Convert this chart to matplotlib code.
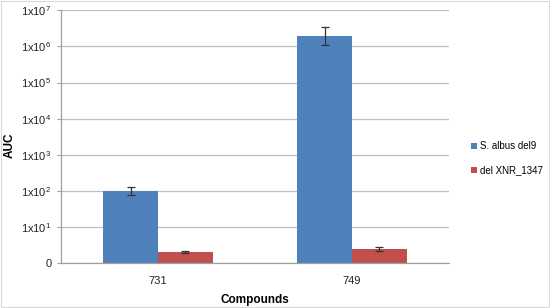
import matplotlib
matplotlib.use("Agg")
import matplotlib.pyplot as plt
import numpy as np
from matplotlib.patches import Rectangle

plt.rcParams['font.family'] = ['Liberation Sans', 'DejaVu Sans']
plt.rcParams['mathtext.default'] = 'regular'

categories = ['731', '749']
series_names = ['S. albus del9', 'del XNR_1347']
blue_vals = [100, 1.94e6]
blue_err_low = [22, 0.85e6]
blue_err_high = [28, 1.45e6]
red_vals = [2.02, 2.54]
red_err = [0.15, 0.3]
ytick_vals = [1, 10, 100, 1e3, 1e4, 1e5, 1e6, 1e7]
ytick_labels = ['0', r'1x10$^{1}$', r'1x10$^{2}$', r'1x10$^{3}$', r'1x10$^{4}$',
                r'1x10$^{5}$', r'1x10$^{6}$', r'1x10$^{7}$']

W, H = 550, 308
fig = plt.figure(figsize=(5.5, 3.08), dpi=100)
ax = fig.add_axes([61/W, 1-263.3/H, (449-61)/W, (263.3-10.3)/H])

x = np.arange(len(categories))
bw = 0.283
c_blue = '#4F81BD'
c_red = '#C0504D'
ax.bar(x - bw/2, blue_vals, bw, color=c_blue, label=series_names[0], zorder=2,
       yerr=[blue_err_low, blue_err_high], error_kw=dict(ecolor='#333333', elinewidth=0.9, capsize=3, capthick=0.9))
ax.bar(x + bw/2, red_vals, bw, color=c_red, label=series_names[1], zorder=2,
       yerr=red_err, error_kw=dict(ecolor='#333333', elinewidth=0.9, capsize=3, capthick=0.9))

ax.set_yscale('log')
ax.set_ylim(1, 1e7)
ax.set_xlim(-0.5, 1.5)
ax.set_yticks(ytick_vals)
ax.set_yticklabels(ytick_labels)
ax.yaxis.set_minor_locator(matplotlib.ticker.NullLocator())
ax.set_xticks(x)
ax.set_xticklabels(categories)
ax.tick_params(axis='x', length=0, labelsize=8, colors='#222222', pad=9)
ax.tick_params(axis='y', length=3, width=0.8, color='#A0A0A0', labelsize=8, labelcolor='#222222', pad=4)
ax.grid(axis='y', color='#BEBEBE', linewidth=0.9, zorder=0)
ax.set_axisbelow(True)
for s in ['top', 'right']:
    ax.spines[s].set_visible(False)
ax.spines['left'].set_color('#A0A0A0')
ax.spines['bottom'].set_color('#A0A0A0')
ax.spines['left'].set_linewidth(0.9)
ax.spines['bottom'].set_linewidth(0.9)

ax.set_xlabel('Compounds', fontsize=8.5, fontweight='bold', labelpad=6)
fig.text(10/W, 1-145/H, 'AUC', rotation=90, fontsize=8.5, fontweight='bold', ha='center', va='center')

fig.legend(loc='center left', bbox_to_anchor=(462/W, 1-158.5/H), frameon=False, fontsize=7,
           handlelength=0.65, handleheight=0.65, handletextpad=0.35, labelspacing=1.45)

fig.patches.append(Rectangle((0.001, 0.002), 0.997, 0.995, transform=fig.transFigure,
                             fill=False, edgecolor='#D9D9D9', linewidth=0.8))
fig.savefig('out.png', dpi=100)
